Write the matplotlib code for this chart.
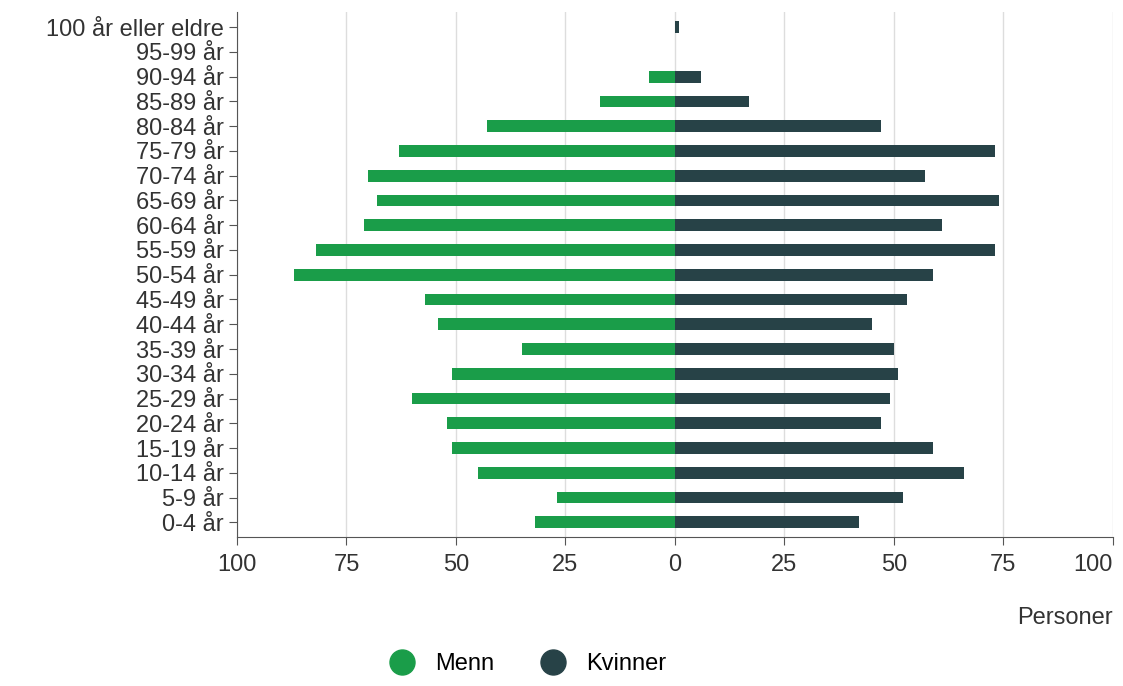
import matplotlib
matplotlib.use("Agg")
import matplotlib.pyplot as plt
from matplotlib.lines import Line2D

plt.rcParams["font.family"] = ["Liberation Sans", "DejaVu Sans"]

groups = ["0-4 år", "5-9 år", "10-14 år", "15-19 år", "20-24 år", "25-29 år",
          "30-34 år", "35-39 år", "40-44 år", "45-49 år", "50-54 år", "55-59 år",
          "60-64 år", "65-69 år", "70-74 år", "75-79 år", "80-84 år", "85-89 år",
          "90-94 år", "95-99 år", "100 år eller eldre"]
menn = [32, 27, 45, 51, 52, 60, 51, 35, 54, 57, 87, 82,
        71, 68, 70, 63, 43, 17, 6, 0, 0]
kvinner = [42, 52, 66, 59, 47, 49, 51, 50, 45, 53, 59, 73,
           61, 74, 57, 73, 47, 17, 6, 0, 1]

GREEN = "#1a9d49"
DARK = "#274247"

fig = plt.figure(figsize=(11.23, 6.86), dpi=100)
ax = fig.add_axes([0.211, 0.217, 0.78, 0.765])
y = range(len(groups))
ax.barh(y, [-m for m in menn], height=0.48, color=GREEN, zorder=3)
ax.barh(y, kvinner, height=0.48, color=DARK, zorder=3)

ax.set_xlim(-100, 100)
ax.set_ylim(-0.6, len(groups) - 0.4)
ax.set_xticks([-100, -75, -50, -25, 0, 25, 50, 75, 100])
ax.set_xticklabels(["100", "75", "50", "25", "0", "25", "50", "75", "100"])
ax.set_yticks(list(y))
ax.set_yticklabels(groups)
ax.tick_params(labelsize=17, colors="#333333", length=6, color="#555555")
ax.tick_params(axis="x", pad=6)
ax.get_xticklabels()[-1].set_horizontalalignment("right")
ax.grid(axis="x", color="#dddddd", lw=1, zorder=0)
for s in ["top", "right"]:
    ax.spines[s].set_visible(False)
ax.spines["left"].set_color("#555555")
ax.spines["bottom"].set_color("#555555")
ax.text(1.0, -0.165, "Personer", transform=ax.transAxes, ha="right",
        fontsize=17, color="#333333")

handles = [Line2D([], [], marker="o", ls="", ms=18, color=GREEN),
           Line2D([], [], marker="o", ls="", ms=18, color=DARK)]
fig.legend(handles, ["Menn", "Kvinner"], loc="lower center",
           bbox_to_anchor=(0.465, -0.015), ncol=2, frameon=False,
           fontsize=17, handletextpad=0.4, columnspacing=1.5)

fig.savefig("out.png", dpi=100)
